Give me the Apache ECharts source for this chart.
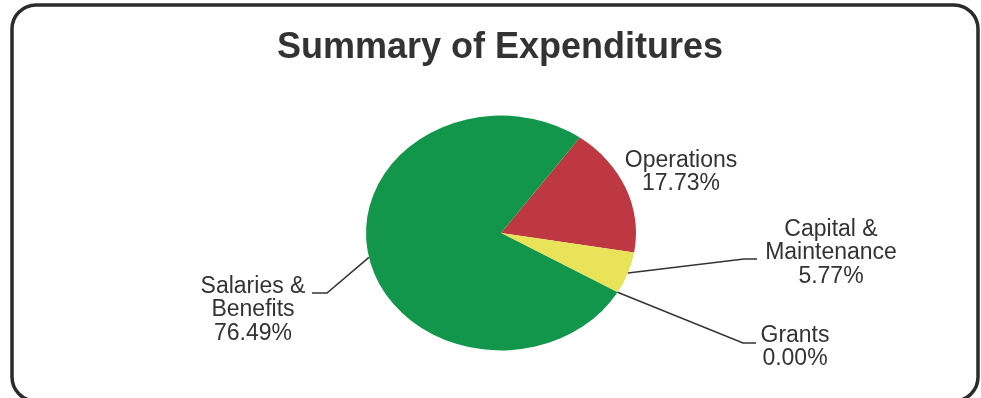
<!DOCTYPE html>
<html>
<head>
<meta charset="utf-8">
<title>Summary of Expenditures</title>
<script src="https://cdn.jsdelivr.net/npm/echarts@6/dist/echarts.min.js"></script>
<style>
  html, body { margin: 0; padding: 0; background: #ffffff; }
  #chart { width: 981px; height: 398px; }
</style>
</head>
<body>
<div id="chart"></div>
<script>
// Expenditure categories and their shares (percent of total)
var categories = ['Operations', 'Capital &\nMaintenance', 'Grants', 'Salaries &\nBenefits'];
var shares = [17.73, 5.77, 0.00, 76.49];
var colors = ['#bd3840', '#e9e35a', '#2d6fb0', '#12964b'];

// Pie geometry (tilted disc: vertical axis squashed)
var PIE_CX = 501, PIE_CY = 233, PIE_R = 135, PIE_TILT = 0.87;
var START_ANGLE = -54.3 * Math.PI / 180; // clockwise from 3 o'clock

// Label placement: text anchor and optional leader-line bend / end points
var labelLayout = [
  { x: 681, y: 172, line: null },
  { x: 831, y: 253, line: [[744, 259], [757, 259]] },
  { x: 795, y: 347, line: [[743, 343], [756, 343]] },
  { x: 253, y: 310, line: [[327, 293], [312, 293]] }
];

var total = shares.reduce(function (a, b) { return a + b; }, 0);

function sliceAngles(i) {
  var before = 0;
  for (var k = 0; k < i; k++) before += shares[k];
  var a0 = START_ANGLE + before / total * Math.PI * 2;
  var a1 = a0 + shares[i] / total * Math.PI * 2;
  return [a0, a1];
}

function renderSlice(params, api) {
  var i = params.dataIndex;
  var val = api.value(0);
  var ang = sliceAngles(i);
  var mid = (ang[0] + ang[1]) / 2;
  var children = [{
    type: 'group',
    x: PIE_CX,
    y: PIE_CY,
    scaleY: PIE_TILT,
    children: [{
      type: 'sector',
      shape: { cx: 0, cy: 0, r: PIE_R, r0: 0, startAngle: ang[0], endAngle: ang[1], clockwise: true },
      style: { fill: colors[i] }
    }]
  }];
  var lay = labelLayout[i];
  if (lay.line) {
    var edge = [PIE_CX + PIE_R * Math.cos(mid), PIE_CY + PIE_R * PIE_TILT * Math.sin(mid)];
    children.push({
      type: 'polyline',
      shape: { points: [edge, lay.line[0], lay.line[1]] },
      style: { stroke: '#333333', lineWidth: 1.5, fill: null }
    });
  }
  children.push({
    type: 'text',
    x: lay.x,
    y: lay.y,
    style: {
      text: categories[i] + '\n' + val.toFixed(2) + '%',
      align: 'center',
      verticalAlign: 'middle',
      fontFamily: 'Liberation Sans, Arial, sans-serif',
      fontSize: 23,
      lineHeight: 23.5,
      fill: '#333333'
    }
  });
  return { type: 'group', children: children };
}

var chart = echarts.init(document.getElementById('chart'), null, { renderer: 'canvas' });
chart.setOption({
  backgroundColor: '#ffffff',
  animation: false,
  title: {
    text: 'Summary of Expenditures',
    left: 272,
    top: 25,
    textStyle: {
      fontFamily: 'Liberation Sans, Arial, sans-serif',
      fontWeight: 'bold',
      fontSize: 36,
      color: '#333333'
    }
  },
  graphic: [{
    type: 'rect',
    shape: { x: 12, y: 5, width: 966, height: 396, r: 24 },
    style: { fill: null, stroke: '#2b2b2b', lineWidth: 3.5 },
    z: 10
  }],
  series: [{
    type: 'custom',
    coordinateSystem: 'none',
    renderItem: renderSlice,
    data: shares.map(function (v) { return [v]; })
  }]
});
</script>
</body>
</html>
